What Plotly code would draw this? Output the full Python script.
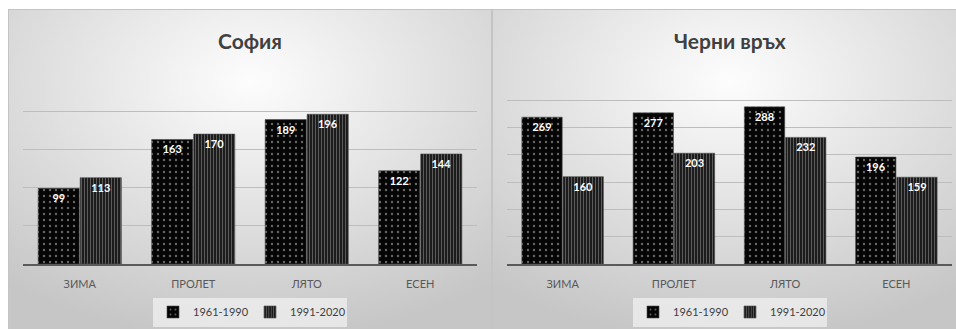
import base64
import plotly.graph_objects as go

seasons = ["ЗИМА", "ПРОЛЕТ", "ЛЯТО", "ЕСЕН"]
series_names = ["1961-1990", "1991-2020"]
sofia_1961 = [99, 163, 189, 122]
sofia_1991 = [113, 170, 196, 144]
cherni_1961 = [269, 277, 288, 196]
cherni_1991 = [160, 203, 232, 159]
titles = ["София", "Черни връх"]

W, H = 956, 329
FONT = "Lato, 'Open Sans', sans-serif"


def grad_svg(w, h):
    svg = (
        f"<svg xmlns='http://www.w3.org/2000/svg' width='{w}' height='{h}'>"
        "<defs><radialGradient id='g' cx='50%' cy='22%' r='80%' fx='50%' fy='22%'>"
        "<stop offset='0' stop-color='#fdfdfd'/>"
        "<stop offset='0.45' stop-color='#e4e4e4'/>"
        "<stop offset='1' stop-color='#c6c6c6'/>"
        "</radialGradient></defs>"
        f"<rect x='0.5' y='0.5' width='{w-1}' height='{h+5}' fill='url(#g)' stroke='#c4c4c4' stroke-width='1'/>"
        "</svg>"
    )
    return "data:image/svg+xml;base64," + base64.b64encode(svg.encode()).decode()


fig = go.Figure()

pat1 = dict(shape=".", bgcolor="#050505", fgcolor="#c8c8c8", size=6, solidity=0.12)
pat2 = dict(shape="|", bgcolor="#1c1c1c", fgcolor="#9a9a9a", size=3, solidity=0.35)

panels = [
    (sofia_1961, sofia_1991, "x", "y", "legend"),
    (cherni_1961, cherni_1991, "x2", "y2", "legend2"),
]
for vals1, vals2, xa, ya, lg in panels:
    for name, vals, pat in [(series_names[0], vals1, pat1), (series_names[1], vals2, pat2)]:
        fig.add_trace(go.Bar(
            x=seasons, y=vals, name=name, xaxis=xa, yaxis=ya, legend=lg,
            marker=dict(color=pat["bgcolor"], pattern=pat,
                        line=dict(color="#4a4a4a", width=0.6)),
            text=[str(v) for v in vals], textposition="inside",
            insidetextanchor="end", textangle=0,
            textfont=dict(family=FONT, size=11, color="white", weight="bold"),
        ))

ydom = [(329 - 264) / H, (329 - 73) / H]
axis_common = dict(showgrid=False, ticks="", showline=True, linecolor="#5a5a5a", linewidth=2,
                   ticklabelstandoff=9,
                   tickfont=dict(family=FONT, size=11, color="#595959"), fixedrange=True)
yaxis_common = dict(showgrid=True, gridcolor="#bdbdbd", gridwidth=1, dtick=50,
                    showticklabels=False, zeroline=False, showline=False, fixedrange=True)

legend_common = dict(orientation="h", xanchor="center", yanchor="middle",
                     y=(329 - 312) / H, bgcolor="rgba(240,240,240,0.75)",
                     font=dict(family=FONT, size=11, color="#404040"),
                     itemwidth=30, entrywidth=52, entrywidthmode="pixels",
                     tracegroupgap=0, itemclick=False)

fig.update_layout(
    width=W, height=H, margin=dict(l=0, r=0, t=0, b=0),
    paper_bgcolor="white", plot_bgcolor="rgba(0,0,0,0)",
    barmode="group", bargap=0.26, bargroupgap=0.02,
    xaxis=dict(domain=[23 / W, 477 / W], anchor="y", **axis_common),
    xaxis2=dict(domain=[507 / W, 952 / W], anchor="y2", **axis_common),
    yaxis=dict(domain=ydom, range=[0, 250], anchor="x", **yaxis_common),
    yaxis2=dict(domain=ydom, range=[0, 350], anchor="x2", **yaxis_common),
    legend=dict(x=250 / W, **legend_common),
    legend2=dict(x=730 / W, **legend_common),
    showlegend=True,
    images=[
        dict(source=grad_svg(484, 320), xref="paper", yref="paper",
             x=8 / W, y=(329 - 9) / H, sizex=484 / W, sizey=320 / H,
             sizing="stretch", layer="below", xanchor="left", yanchor="top"),
        dict(source=grad_svg(476, 320), xref="paper", yref="paper",
             x=492 / W, y=(329 - 9) / H, sizex=476 / W, sizey=320 / H,
             sizing="stretch", layer="below", xanchor="left", yanchor="top"),
    ],
    annotations=[
        dict(text=titles[0], x=250 / W, y=(329 - 40) / H, xref="paper", yref="paper",
             showarrow=False, xanchor="center", yanchor="middle",
             font=dict(family=FONT, size=21, color="#404040", weight="bold")),
        dict(text=titles[1], x=730 / W, y=(329 - 40) / H, xref="paper", yref="paper",
             showarrow=False, xanchor="center", yanchor="middle",
             font=dict(family=FONT, size=21, color="#404040", weight="bold")),
    ],
)

fig.write_html("out.html", config={"displayModeBar": False})
